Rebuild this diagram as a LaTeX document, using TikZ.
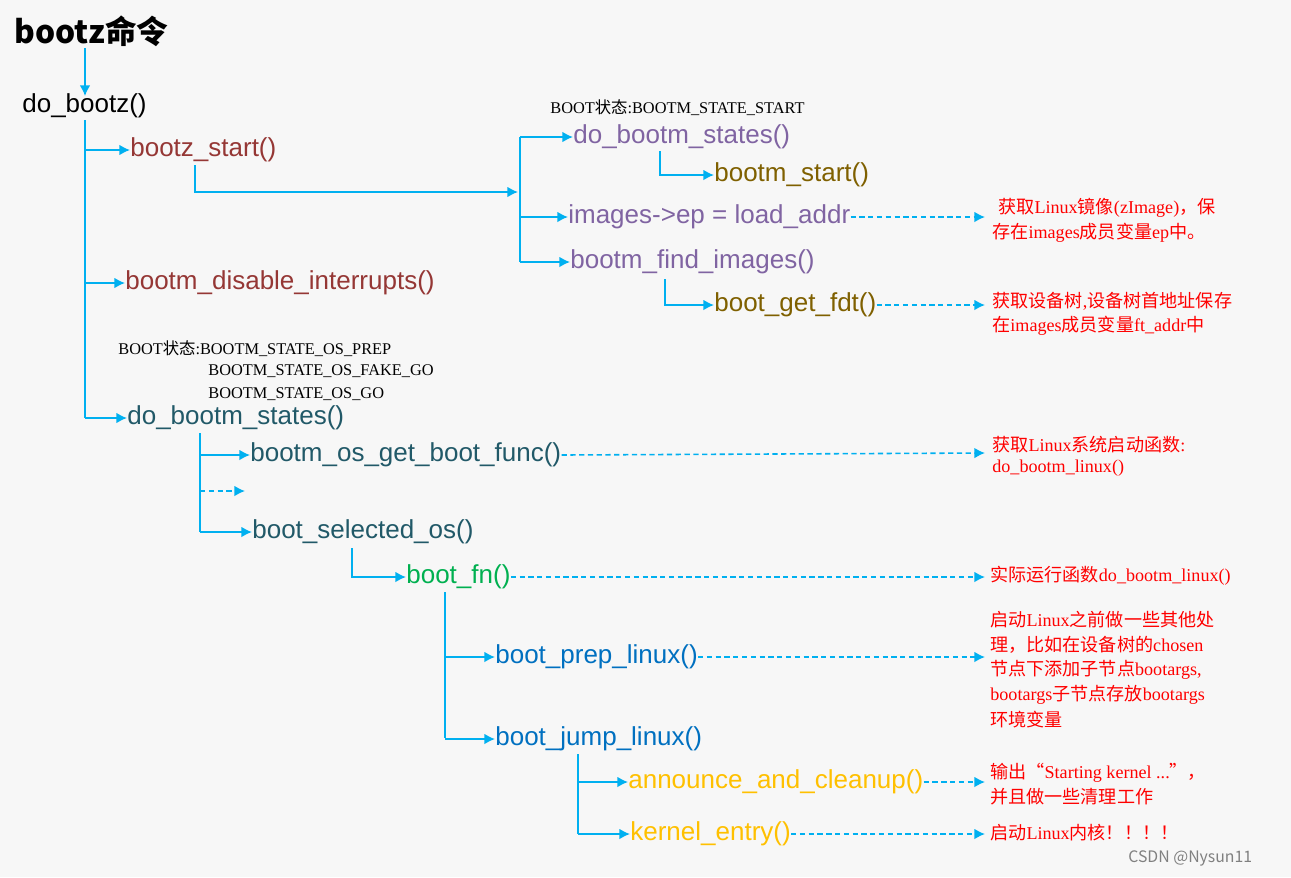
\documentclass[tikz,border=0pt]{standalone}
\usepackage{fontspec}
\setmainfont{Liberation Sans}
\newfontfamily\cjk{Noto Sans CJK SC}
\newfontfamily\ser{Liberation Serif}
\usetikzlibrary{arrows.meta}
\definecolor{ln}{HTML}{00B0F0}
\definecolor{brn}{HTML}{953735}
\definecolor{pur}{HTML}{8064A2}
\definecolor{olv}{HTML}{7F6000}
\definecolor{tea}{HTML}{215968}
\definecolor{grn}{HTML}{00B050}
\definecolor{blu}{HTML}{0070C0}
\definecolor{ylw}{HTML}{FFC000}
\begin{document}
\begin{tikzpicture}[x=0.02cm,y=-0.02cm,
  ln/.style={draw=ln,line width=0.9pt},
  ar/.style={ln,-{Latex[length=6pt,width=6pt]}},
  da/.style={ar,dashed,dash pattern=on 3pt off 2pt},
  fn/.style={anchor=west,inner sep=0pt,font=\fontsize{14.8}{16}\selectfont},
  note/.style={anchor=west,inner sep=0pt,text=red,font=\fontsize{10.3}{12}\ser},
  st/.style={anchor=west,inner sep=0pt,font=\fontsize{9.3}{11}\ser}]
\fill[white!97!black] (0,0) rectangle (1291,877);
\useasboundingbox (0,0) rectangle (1291,877);
\node[anchor=west,inner sep=0pt,font=\fontsize{18}{20}\bfseries\cjk] (title) at (14,31) {bootz命令};
\node[fn] (dobootz) at (22,106) {do\_bootz()};
\draw[ar] (85,48) -- (85,96);
\draw[ln] (85,120) -- (85,418);
\node[fn,text=brn] (bzs) at (130,150) {bootz\_start()};
\node[fn,text=brn] (bdi) at (125,283) {bootm\_disable\_interrupts()};
\node[fn,text=tea] (dbs2) at (127,418) {do\_bootm\_states()};
\draw[ar] (85,150) -- (bzs.west);
\draw[ar] (85,283) -- (bdi.west);
\draw[ar] (85,418) -- (dbs2.west);
% upper branch
\node[st] (s1) at (550,108) {BOOT{\cjk 状态}:BOOTM\_STATE\_START};
\coordinate (j1) at (518,192);
\draw[ar] (195,165) -- (195,192) -- (j1);
\draw[ln] (520,137) -- (520,262);
\node[fn,text=pur] (dbs1) at (573,137) {do\_bootm\_states()};
\node[fn,text=pur] (iep) at (568,217) {images->ep = load\_addr};
\node[fn,text=pur] (bfi) at (570,262) {bootm\_find\_images()};
\draw[ar] (520,137) -- (dbs1.west);
\draw[ar] (520,217) -- (iep.west);
\draw[ar] (520,262) -- (bfi.west);
\node[fn,text=olv] (bs) at (714,175) {bootm\_start()};
\draw[ar] (660,151) |- (bs.west);
\node[fn,text=olv] (bgf) at (714,305) {boot\_get\_fdt()};
\draw[ar] (665,279) |- (bgf.west);
\coordinate (n1) at (985,217);
\coordinate (n2) at (985,305);
\draw[da] (iep.east) -- (n1);
\draw[da] (bgf.east) -- (n2);
\node[note] at (998,208) {{\cjk 获取}Linux{\cjk 镜像}(zImage){\cjk ，保}};
\node[note] at (992,233) {{\cjk 存在}images{\cjk 成员变量}ep{\cjk 中。}};
\node[note] at (992,301) {{\cjk 获取设备树},{\cjk 设备树首地址保存}};
\node[note] at (992,326) {{\cjk 在}images{\cjk 成员变量}ft\_addr{\cjk 中}};
% os states
\node[st] at (118,349) {BOOT{\cjk 状态}:BOOTM\_STATE\_OS\_PREP};
\node[st] at (208,371) {BOOTM\_STATE\_OS\_FAKE\_GO};
\node[st] at (208,394) {BOOTM\_STATE\_OS\_GO};
\draw[ln] (200,433) -- (200,532);
\node[fn,text=tea] (gbf) at (250,455) {bootm\_os\_get\_boot\_func()};
\node[fn,text=tea] (bso) at (252,532) {boot\_selected\_os()};
\coordinate (d1) at (245,491);
\draw[ar] (200,455) -- (gbf.west);
\draw[da] (200,491) -- (d1);
\draw[ar] (200,532) -- (bso.west);
\coordinate (n3) at (985,453);
\draw[da] (gbf.east) -- (n3);
\node[note] at (992,445) {{\cjk 获取}Linux{\cjk 系统启动函数}:};
\node[note] at (992,468) {do\_bootm\_linux()};
\node[fn,text=grn] (bfn) at (406,577) {boot\_fn()};
\draw[ar] (352,548) |- (bfn.west);
\coordinate (n4) at (985,577);
\draw[da] (bfn.east) -- (n4);
\node[note] at (990,576) {{\cjk 实际运行函数}do\_bootm\_linux()};
\draw[ln] (445,592) -- (445,738);
\node[fn,text=blu] (bpl) at (495,657) {boot\_prep\_linux()};
\node[fn,text=blu] (bjl) at (495,739) {boot\_jump\_linux()};
\draw[ar] (445,657) -- (bpl.west);
\draw[ar] (445,739) -- (bjl.west);
\coordinate (n5) at (985,657);
\draw[da] (bpl.east) -- (n5);
\node[note] at (990,620) {{\cjk 启动}Linux{\cjk 之前做一些其他处}};
\node[note] at (990,645) {{\cjk 理，比如在设备树的}chosen};
\node[note] at (990,670) {{\cjk 节点下添加子节点}bootargs,};
\node[note] at (990,695) {bootargs{\cjk 子节点存放}bootargs};
\node[note] at (990,720) {{\cjk 环境变量}};
\draw[ln] (578,754) -- (578,834);
\node[fn,text=ylw] (aac) at (628,782) {announce\_and\_cleanup()};
\node[fn,text=ylw] (ke) at (630,834) {kernel\_entry()};
\draw[ar] (578,782) -- (aac.west);
\draw[ar] (578,834) -- (ke.west);
\coordinate (n6) at (985,782);
\coordinate (n7) at (985,834);
\draw[da] (aac.east) -- (n6);
\draw[da] (ke.east) -- (n7);
\node[note] at (990,773) {{\cjk 输出“}Starting kernel ...{\cjk ”，}};
\node[note] at (990,797) {{\cjk 并且做一些清理工作}};
\node[note] at (990,833) {{\cjk 启动}Linux{\cjk 内核！！！！}};
\node[anchor=west,inner sep=0pt,text=gray,font=\fontsize{9}{10}\cjk] at (1128,858) {CSDN @Nysun11};
\end{tikzpicture}
\end{document}
